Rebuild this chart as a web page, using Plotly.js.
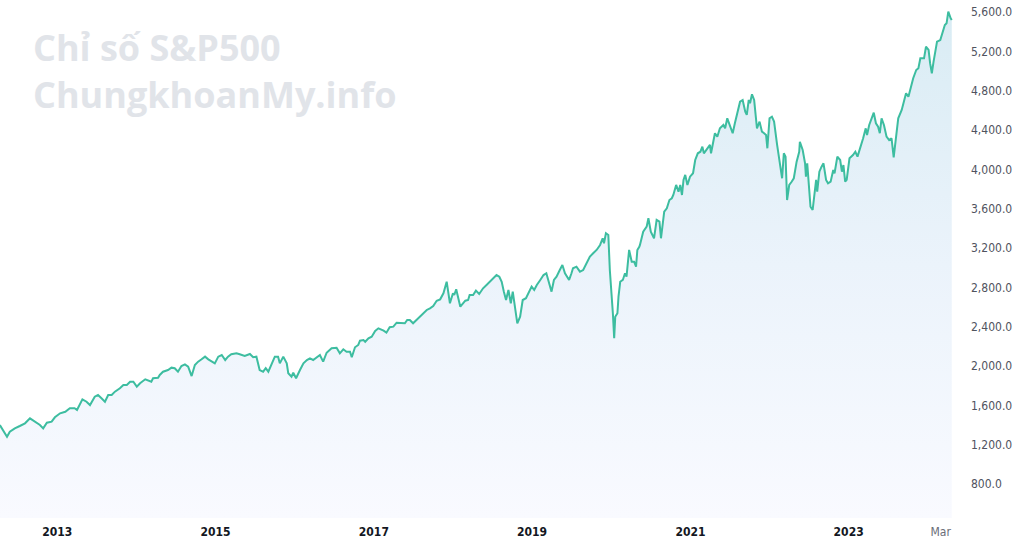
<!DOCTYPE html>
<html>
<head>
<meta charset="utf-8">
<script src="https://cdn.plot.ly/plotly-3.0.1.min.js"></script>
<style>
  html, body { margin: 0; padding: 0; background: #ffffff; }
  #chart { width: 1024px; height: 559px; }
</style>
</head>
<body>
<div id="chart"></div>
<script>
// ---- Data ----
const dates = [
'2012-04-11','2012-04-26','2012-05-14','2012-05-27','2012-06-19','2012-07-12','2012-08-05','2012-08-28','2012-09-20','2012-10-13','2012-10-28','2012-11-14','2012-12-06','2012-12-21',
'2013-01-14','2013-02-07','2013-02-28','2013-03-22','2013-04-02','2013-04-27','2013-05-16','2013-06-01','2013-06-23','2013-07-08','2013-07-24','2013-08-09','2013-08-24','2013-09-09','2013-09-24','2013-10-17','2013-11-02','2013-11-18','2013-12-03','2013-12-18',
'2014-01-03','2014-01-18','2014-02-11','2014-02-26','2014-03-11','2014-03-19','2014-04-11','2014-04-19','2014-05-04','2014-05-27','2014-06-12','2014-06-27','2014-07-12','2014-07-28','2014-08-13','2014-08-28','2014-09-13','2014-09-28','2014-10-13','2014-10-29','2014-11-14','2014-11-29','2014-12-14','2014-12-29',
'2015-01-14','2015-01-30','2015-02-15','2015-02-28','2015-03-15','2015-04-08','2015-04-23','2015-05-16','2015-06-09','2015-06-24','2015-07-09','2015-07-24','2015-08-09','2015-08-21','2015-09-02','2015-09-17','2015-10-02','2015-10-17','2015-10-25','2015-11-10','2015-11-26','2015-12-03','2015-12-18','2015-12-26',
'2016-01-08','2016-01-26','2016-02-11','2016-02-27','2016-03-12','2016-03-27','2016-04-12','2016-04-27','2016-05-12','2016-05-28','2016-06-20','2016-07-13','2016-07-28','2016-08-13','2016-08-28','2016-09-13','2016-09-21','2016-10-06','2016-10-21','2016-10-29','2016-11-14','2016-11-22','2016-12-07','2016-12-22',
'2017-01-07','2017-01-22','2017-02-15','2017-02-28','2017-03-15','2017-04-01','2017-04-16','2017-05-09','2017-05-24','2017-06-04','2017-06-16','2017-07-01','2017-07-17','2017-08-02','2017-08-17','2017-09-02','2017-09-17','2017-10-02','2017-10-18','2017-11-03','2017-11-18','2017-12-03','2017-12-18',
'2018-01-01','2018-01-07','2018-01-16','2018-02-04','2018-02-16','2018-02-27','2018-03-12','2018-03-19','2018-04-04','2018-04-17','2018-05-02','2018-05-20','2018-06-05','2018-06-20','2018-07-05','2018-07-21','2018-08-03','2018-08-14','2018-08-24','2018-09-03','2018-09-14','2018-09-25','2018-10-04','2018-10-14','2018-10-25','2018-11-07','2018-11-19','2018-12-04','2018-12-19','2018-12-30',
'2019-01-11','2019-01-23','2019-02-08','2019-02-23','2019-03-08','2019-03-23','2019-04-01','2019-04-12','2019-04-24','2019-05-09','2019-05-21','2019-06-02','2019-06-12','2019-06-21','2019-07-02','2019-07-09','2019-07-25','2019-08-10','2019-08-25','2019-09-10','2019-09-25','2019-10-10','2019-10-26','2019-11-11','2019-11-23','2019-11-29','2019-12-08','2019-12-19','2019-12-26',
'2020-01-09','2020-01-15','2020-01-20','2020-01-30','2020-02-04','2020-02-12','2020-02-24','2020-03-05','2020-03-12','2020-03-24','2020-04-05','2020-04-16','2020-04-25','2020-05-01','2020-05-10','2020-05-13','2020-05-28','2020-06-13','2020-06-21','2020-07-02','2020-07-17','2020-07-29','2020-08-11','2020-08-18','2020-09-02','2020-09-14','2020-09-26','2020-10-07','2020-10-14','2020-10-27','2020-11-07','2020-11-15','2020-11-23','2020-11-30','2020-12-08','2020-12-18','2020-12-30',
'2021-01-13','2021-01-23','2021-02-04','2021-02-16','2021-02-25','2021-03-04','2021-03-16','2021-04-01','2021-04-06','2021-04-16','2021-04-24','2021-05-05','2021-05-17','2021-06-02','2021-06-10','2021-06-20','2021-07-02','2021-07-15','2021-07-25','2021-08-06','2021-08-18','2021-08-30','2021-09-11','2021-09-18','2021-09-27','2021-10-03','2021-10-12','2021-10-22','2021-11-04','2021-11-16','2021-11-27','2021-12-07','2021-12-16','2021-12-22',
'2022-01-01','2022-01-12','2022-01-22','2022-02-05','2022-02-17','2022-02-28','2022-03-08','2022-03-16','2022-03-23','2022-04-02','2022-04-13','2022-04-23','2022-05-06','2022-05-18','2022-05-21','2022-06-03','2022-06-14','2022-06-18','2022-06-24','2022-07-03','2022-07-09','2022-07-19','2022-07-24','2022-08-04','2022-08-09','2022-08-19','2022-08-29','2022-09-07','2022-09-19','2022-09-28','2022-10-10','2022-10-22','2022-10-28','2022-11-10','2022-11-23','2022-12-01','2022-12-08','2022-12-16','2022-12-23',
'2023-01-05','2023-01-21','2023-02-01','2023-02-11','2023-02-24','2023-03-09','2023-03-21','2023-03-27','2023-04-06','2023-04-17','2023-04-27','2023-05-07','2023-05-17','2023-05-25','2023-06-02','2023-06-13','2023-06-25','2023-07-07','2023-07-18','2023-07-28','2023-08-08','2023-08-18','2023-09-03','2023-09-14','2023-09-23','2023-10-04','2023-10-14','2023-10-26','2023-11-09','2023-11-19','2023-11-28','2023-12-15','2023-12-24',
'2024-01-05','2024-01-12','2024-01-20','2024-01-28','2024-02-13','2024-02-28','2024-03-10','2024-03-20','2024-03-28','2024-04-05','2024-04-16','2024-04-21'
];

const values = [
1400,1349,1281,1332,1366,1390,1417,1468,1434,1400,1366,1423,1434,1478,
1519,1535,1570,1570,1553,1661,1637,1603,1688,1705,1672,1637,1705,1705,1739,1773,1807,1807,1840,1840,
1790,1824,1865,1851,1840,1875,1881,1909,1942,1959,1983,1977,1942,2000,2017,1993,1898,2010,2044,2068,2095,2068,2044,2027,
2095,2112,2061,2095,2119,2129,2119,2102,2122,2089,2095,1959,1942,1977,1942,2027,2095,2095,2027,2095,2027,1926,1891,1932,
1875,1959,2027,2061,2078,2061,2089,2112,2044,2135,2180,2186,2129,2170,2145,2145,2089,2190,2214,2257,2264,2247,2282,2298,
2356,2383,2359,2339,2394,2400,2440,2434,2434,2468,2468,2434,2468,2508,2542,2570,2587,2610,2664,2678,2739,2857,2638,
2739,2722,2780,2603,2638,2664,2671,2722,2722,2766,2732,2790,2824,2857,2892,2925,2908,2857,2756,2671,2773,2638,2756,2620,2434,2501,2671,2689,2756,2807,
2773,2824,2875,2925,2943,2841,2756,2875,2908,2976,3027,2943,2908,2875,2943,2994,3010,2959,2976,3044,3112,3146,3180,3231,3299,3248,3350,3332,2976,
2536,2282,2501,2536,2705,2857,2875,2943,2908,3180,3061,3061,3010,3180,3213,3231,3366,3417,3502,3366,3299,3485,3468,3299,3569,3604,3688,3706,3739,3841,3773,3841,3739,3892,3943,3841,3925,
3960,4095,4163,4179,4230,4163,4197,4248,4163,4298,4367,4332,4417,4451,4417,4519,4434,4367,4468,4570,4688,4705,4586,4553,4705,4672,4763,4705,4417,4485,4383,4367,4349,4214,
4519,4535,4485,4248,4078,3909,4163,4129,3688,3841,3874,3909,4078,4179,4281,4197,4061,3925,4061,3823,3620,3587,3688,3892,3773,3976,4027,4061,3892,3858,3874,3993,3960,4129,4095,3976,4044,3874,3892,
4112,4146,4179,4129,4214,4316,4417,4349,4451,4519,4576,4468,4434,4367,4519,4451,4332,4298,4316,4122,4367,4519,4604,4705,4773,4739,4840,4926,5010,5028,5129,5129,5247,
5214,5079,4977,5095,5298,5315,5400,5468,5485,5603,5536,5519
];

const xTickDates  = ['2013-01-01','2015-01-01','2017-01-01','2019-01-01','2021-01-01','2023-01-01','2024-03-01'];
const xTickLabels = ['2013','2015','2017','2019','2021','2023','Mar'];

const yTickValues = [800,1200,1600,2000,2400,2800,3200,3600,4000,4400,4800,5200,5600];
const yTickLabels = ['800.0','1,200.0','1,600.0','2,000.0','2,400.0','2,800.0','3,200.0','3,600.0','4,000.0','4,400.0','4,800.0','5,200.0','5,600.0'];

const watermarkLines = ['Chỉ số S&P500', 'ChungkhoanMy.info'];

// ---- Chart ----
const xText = xTickLabels.map(function (t) {
  return t === 'Mar' ? '<span style="color:#6a6d78">' + t + '</span>' : '<b>' + t + '</b>';
});

const trace = {
  type: 'scatter',
  mode: 'lines',
  x: dates,
  y: values,
  line: { color: '#3dbda0', width: 2 },
  fill: 'tozeroy',
  fillcolor: 'rgba(225,238,246,0.9)',
  fillgradient: {
    type: 'vertical',
    start: 454,
    stop: 5600,
    colorscale: [[0, 'rgb(249,250,255)'], [0.5, 'rgb(235,243,251)'], [1, 'rgb(217,236,244)']]
  },
  hoverinfo: 'skip'
};

const layout = {
  width: 1024,
  height: 559,
  margin: { l: 0, r: 64, t: 0, b: 41 },
  paper_bgcolor: '#ffffff',
  plot_bgcolor: '#ffffff',
  showlegend: false,
  xaxis: {
    type: 'date',
    range: ['2012-04-11 16:00', '2024-05-29'],
    tickmode: 'array',
    tickvals: xTickDates,
    ticktext: xText,
    showgrid: false,
    zeroline: false,
    showline: false,
    ticks: '',
    ticklabelstandoff: 5,
    tickfont: { family: 'DejaVu Sans Condensed', size: 12, color: '#131722' },
    fixedrange: true
  },
  yaxis: {
    side: 'right',
    range: [454.2, 5722],
    tickmode: 'array',
    tickvals: yTickValues,
    ticktext: yTickLabels,
    showgrid: false,
    zeroline: false,
    showline: false,
    ticks: '',
    ticklabelstandoff: 10,
    tickfont: { family: 'DejaVu Sans Condensed', size: 12, color: '#50535e' },
    fixedrange: true
  },
  annotations: [
    {
      xref: 'paper', yref: 'paper',
      x: 31 / 960, y: 1 - 71 / 518,
      xanchor: 'left', yanchor: 'middle',
      align: 'left',
      text: watermarkLines.map(function (s) { return '<b>' + s + '</b>'; }).join('<br>'),
      showarrow: false,
      font: { family: 'Open Sans', size: 36, color: '#e1e4e9' }
    }
  ]
};

Plotly.newPlot('chart', [trace], layout, { staticPlot: true, displayModeBar: false });
</script>
</body>
</html>
